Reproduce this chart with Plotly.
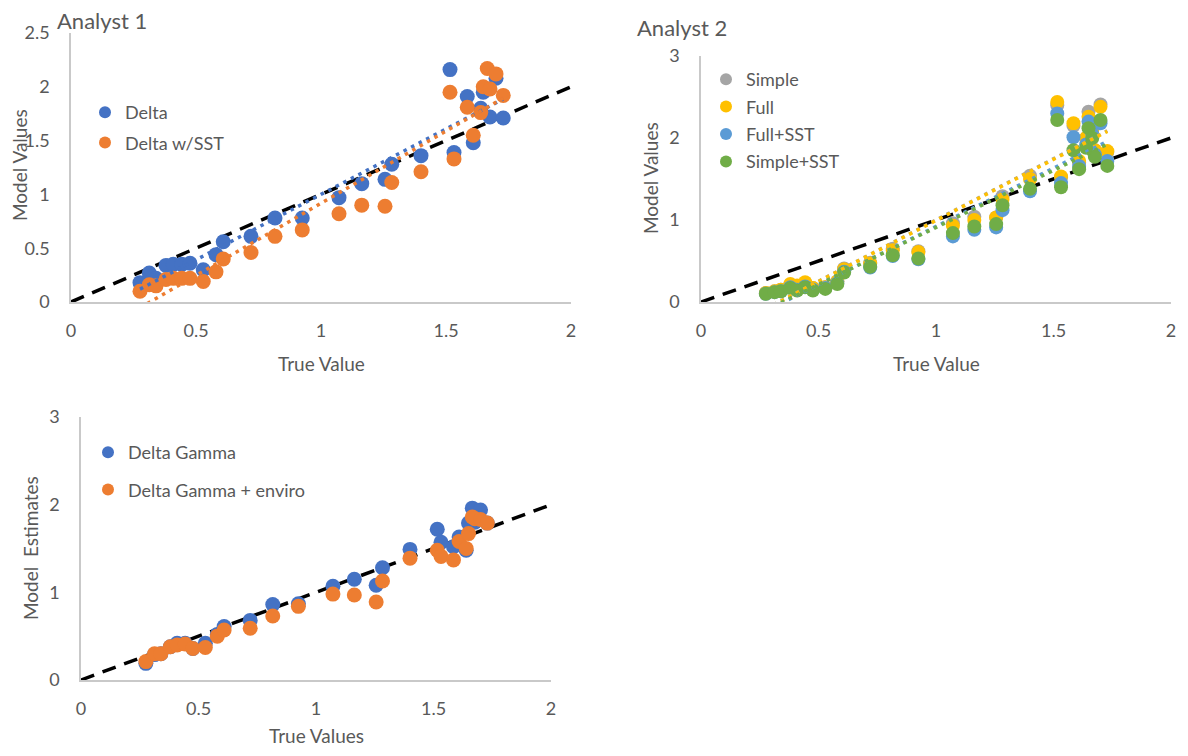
import plotly.graph_objects as go
import numpy as np

# ---------------- data ----------------
true_x = [0.276, 0.313, 0.340, 0.380, 0.409, 0.443, 0.476, 0.529, 0.580, 0.609,
          0.720, 0.816, 0.925, 1.072, 1.163, 1.256, 1.283, 1.400, 1.516, 1.532,
          1.585, 1.609, 1.639, 1.649, 1.665, 1.676, 1.700, 1.729]

# Analyst 1
delta = [0.18, 0.27, 0.22, 0.34, 0.35, 0.35, 0.36, 0.30, 0.44, 0.56,
         0.61, 0.78, 0.78, 0.97, 1.10, 1.14, 1.28, 1.36, 2.16, 1.39,
         1.91, 1.48, 1.80, 1.95, 1.98, 1.72, 2.08, 1.71]
delta_sst = [0.10, 0.16, 0.15, 0.21, 0.22, 0.22, 0.22, 0.19, 0.28, 0.40,
             0.46, 0.61, 0.67, 0.82, 0.90, 0.89, 1.11, 1.21, 1.95, 1.33,
             1.81, 1.55, 1.76, 2.00, 2.17, 1.98, 2.12, 1.92]

# Analyst 2
simple = [0.11, 0.13, 0.15, 0.21, 0.19, 0.23, 0.17, 0.18, 0.25, 0.41,
          0.48, 0.65, 0.62, 0.96, 1.04, 1.03, 1.29, 1.54, 2.40, 1.52,
          2.15, 1.70, 2.00, 2.32, 2.10, 1.85, 2.41, 1.83]
full = [0.11, 0.13, 0.15, 0.22, 0.20, 0.24, 0.17, 0.18, 0.25, 0.40,
        0.47, 0.63, 0.61, 0.93, 1.00, 1.03, 1.25, 1.50, 2.44, 1.53,
        2.18, 1.72, 2.00, 2.26, 2.10, 1.85, 2.38, 1.84]
full_sst = [0.10, 0.12, 0.13, 0.18, 0.15, 0.19, 0.15, 0.17, 0.23, 0.37,
            0.42, 0.56, 0.52, 0.80, 0.88, 0.91, 1.12, 1.35, 2.30, 1.45,
            2.01, 1.66, 1.92, 2.20, 2.05, 1.80, 2.18, 1.72]
simple_sst = [0.10, 0.12, 0.13, 0.17, 0.14, 0.18, 0.14, 0.16, 0.22, 0.36,
              0.43, 0.57, 0.53, 0.84, 0.92, 0.95, 1.18, 1.38, 2.22, 1.40,
              1.85, 1.62, 1.88, 2.12, 2.00, 1.77, 2.22, 1.66]

# Bottom chart
delta_gamma = [0.19, 0.29, 0.30, 0.38, 0.42, 0.42, 0.36, 0.42, 0.52, 0.61,
               0.68, 0.86, 0.87, 1.07, 1.15, 1.08, 1.28, 1.49, 1.72, 1.57,
               1.52, 1.63, 1.48, 1.79, 1.96, 1.80, 1.94, 1.79]
delta_gamma_env = [0.21, 0.30, 0.30, 0.38, 0.40, 0.41, 0.36, 0.37, 0.50, 0.57,
                   0.59, 0.73, 0.84, 0.98, 0.97, 0.89, 1.13, 1.39, 1.48, 1.41,
                   1.37, 1.58, 1.50, 1.67, 1.86, 1.84, 1.83, 1.79]

diag = [0, 2]
x_ticks = [0, 0.5, 1, 1.5, 2]
x_ticklabels = ["0", "0.5", "1", "1.5", "2"]
y1_ticks = [0, 0.5, 1, 1.5, 2, 2.5]
y1_ticklabels = ["0", "0.5", "1", "1.5", "2", "2.5"]
y2_ticks = [0, 1, 2, 3]
y2_ticklabels = ["0", "1", "2", "3"]

# ---------------- styling ----------------
PAGE_OFF = 8           # default browser body margin
W, H = 1188 - 2 * PAGE_OFF, 756 - 2 * PAGE_OFF
FONT = "Lato"
TXT = "#595959"
AXC = "#c9c9c9"

BLUE = "#4472C4"
ORANGE = "#ED7D31"
GREY = "#A5A5A5"
YELLOW = "#FFC000"
LBLUE = "#5B9BD5"
GREEN = "#70AD47"


def fx(p):
    return (p - PAGE_OFF) / W


def fy(p):
    return 1 - (p - PAGE_OFF) / H


fig = go.Figure()


def add_series(name, x, y, color, xa, ya, leg, size):
    fig.add_trace(go.Scatter(
        x=x, y=y, mode="markers", name=name,
        marker=dict(color=color, size=size, line=dict(width=0)),
        xaxis=xa, yaxis=ya, legend=leg, legendgroup=name,
    ))


def add_trend(x, y, color, xa, ya):
    m, b = np.polyfit(np.array(x), np.array(y), 1)
    xs = [min(x), max(x)]
    ys = [m * v + b for v in xs]
    fig.add_trace(go.Scatter(
        x=xs, y=ys, mode="lines", showlegend=False, hoverinfo="skip",
        line=dict(color=color, width=3.5, dash="3.5px,5px"),
        xaxis=xa, yaxis=ya,
    ))


def add_diag(xa, ya):
    fig.add_trace(go.Scatter(
        x=diag, y=diag, mode="lines", showlegend=False, hoverinfo="skip",
        line=dict(color="black", width=3.5, dash="14px,9px"),
        xaxis=xa, yaxis=ya,
    ))


# Analyst 1
add_diag("x", "y")
add_series("Delta", true_x, delta, BLUE, "x", "y", "legend", 15)
add_series("Delta w/SST", true_x, delta_sst, ORANGE, "x", "y", "legend", 15)
add_trend(true_x, delta, BLUE, "x", "y")
add_trend(true_x, delta_sst, ORANGE, "x", "y")

# Analyst 2
add_diag("x2", "y2")
add_series("Simple", true_x, simple, GREY, "x2", "y2", "legend2", 14)
add_series("Full", true_x, full, YELLOW, "x2", "y2", "legend2", 14)
add_series("Full+SST", true_x, full_sst, LBLUE, "x2", "y2", "legend2", 14)
add_series("Simple+SST", true_x, simple_sst, GREEN, "x2", "y2", "legend2", 14)
add_trend(true_x, simple, GREY, "x2", "y2")
add_trend(true_x, full, YELLOW, "x2", "y2")
add_trend(true_x, full_sst, LBLUE, "x2", "y2")
add_trend(true_x, simple_sst, GREEN, "x2", "y2")

# Bottom
add_diag("x3", "y3")
add_series("Delta Gamma", true_x, delta_gamma, BLUE, "x3", "y3", "legend3", 15)
add_series("Delta Gamma + enviro", true_x, delta_gamma_env, ORANGE, "x3", "y3", "legend3", 15)

tickfont = dict(family=FONT, size=18, color=TXT)


def xaxis(dom, anchor):
    return dict(domain=dom, range=[0, 2], tickvals=x_ticks, ticktext=x_ticklabels,
                showgrid=False, zeroline=False, showline=True, linecolor=AXC,
                linewidth=1.5, ticks="", tickfont=tickfont, ticklabelstandoff=12,
                anchor=anchor, fixedrange=True, automargin=False)


def yaxis(dom, rng, tv, tt, anchor):
    return dict(domain=dom, range=rng, tickvals=tv, ticktext=tt,
                showgrid=False, zeroline=False, showline=True, linecolor=AXC,
                linewidth=1.5, ticks="", tickfont=tickfont, ticklabelstandoff=16,
                anchor=anchor, fixedrange=True, automargin=False)


legfont = dict(family=FONT, size=18, color=TXT)


def legend(xp, yp, gap):
    return dict(x=fx(xp), y=fy(yp), xanchor="left", yanchor="top",
                bgcolor="rgba(0,0,0,0)", font=legfont, itemsizing="constant",
                traceorder="grouped", tracegroupgap=gap, borderwidth=0)


ann = []


def text(t, xp, yp, size=19, angle=0, xanchor="center"):
    ann.append(dict(text=t, x=fx(xp), y=fy(yp), xref="paper", yref="paper",
                    showarrow=False, textangle=angle, xanchor=xanchor, yanchor="middle",
                    font=dict(family=FONT, size=size, color=TXT)))


text("Analyst 1", 55, 20, size=22, xanchor="left")
text("Analyst 2", 635, 28, size=22, xanchor="left")
text("True Value", 321, 363)
text("True Value", 936, 363)
text("True Values", 316, 735)
text("Model Values", 20, 165, angle=-90)
text("Model Values", 650, 178, angle=-90)
text("Model  Estimates", 30, 548, angle=-90)

fig.update_layout(
    width=W, height=H,
    margin=dict(l=0, r=0, t=0, b=0, autoexpand=False),
    paper_bgcolor="white", plot_bgcolor="white",
    xaxis=xaxis([fx(71), fx(571)], "y"),
    yaxis=yaxis([fy(302), fy(33)], [0, 2.5], y1_ticks, y1_ticklabels, "x"),
    xaxis2=xaxis([fx(701), fx(1171)], "y2"),
    yaxis2=yaxis([fy(302), fy(56)], [0, 3], y2_ticks, y2_ticklabels, "x2"),
    xaxis3=xaxis([fx(81), fx(551)], "y3"),
    yaxis3=yaxis([fy(680), fy(417)], [0, 3], y2_ticks, y2_ticklabels, "x3"),
    legend=legend(85, 94, 4),
    legend2=legend(706, 61, 1),
    legend3=legend(88, 434, 11),
    annotations=ann,
    hovermode=False,
)

fig.write_html("out.html")
